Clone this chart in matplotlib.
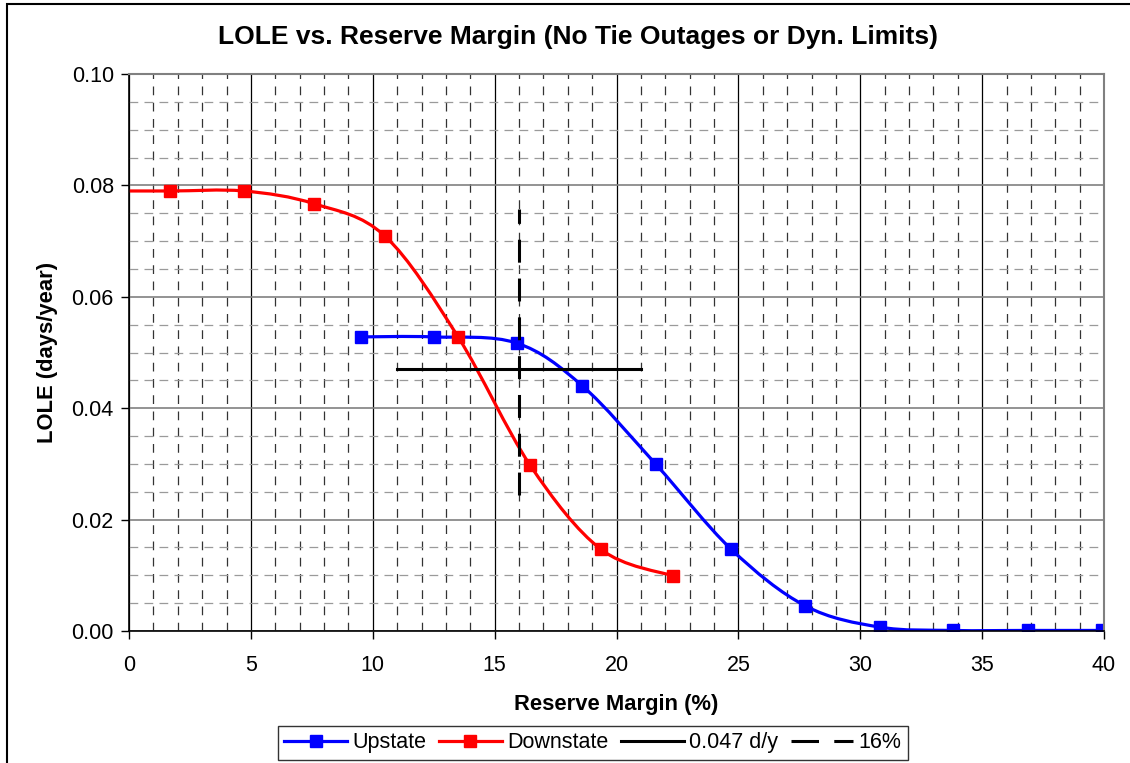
import numpy as np
import matplotlib
matplotlib.use("Agg")
import matplotlib.pyplot as plt
from matplotlib.path import Path
from matplotlib.patches import PathPatch, Rectangle
from matplotlib.lines import Line2D
from matplotlib.ticker import MultipleLocator, FormatStrFormatter

plt.rcParams['font.family'] = ['Liberation Sans', 'DejaVu Sans']

# data
up_x = [9.5, 12.5, 15.9, 18.6, 21.6, 24.7, 27.75, 30.8, 33.8, 36.9, 39.9]
up_y = [0.0528, 0.0528, 0.0517, 0.0440, 0.0300, 0.0147, 0.0045, 0.0007, 0.0001, 0.0001, 0.0001]
down_x = [-1.25, 1.7, 4.7, 7.6, 10.5, 13.5, 16.45, 19.35, 22.3]
down_y = [0.0790, 0.0790, 0.0790, 0.0767, 0.0709, 0.0528, 0.0298, 0.0147, 0.0099]
target_x = [11.0, 21.0]
target_y = [0.047, 0.047]
margin_x = [16.0, 16.0]
margin_y = [0.0245, 0.0757]


def smooth_path(xs, ys):
    # Excel-style smoothed line: Catmull-Rom segments as cubic Beziers
    p = np.column_stack([xs, ys])
    n = len(p)
    verts = [p[0]]
    codes = [Path.MOVETO]
    for i in range(n - 1):
        p0 = p[i - 1] if i > 0 else p[i]
        p1 = p[i]
        p2 = p[i + 1]
        p3 = p[i + 2] if i + 2 < n else p[i + 1]
        c1 = p1 + (p2 - p0) / 6.0
        c2 = p2 - (p3 - p1) / 6.0
        verts += [c1, c2, p2]
        codes += [Path.CURVE4] * 3
    return Path(verts, codes)


fig = plt.figure(figsize=(11.30, 7.63), dpi=100)
ax = fig.add_axes([0.1142, 0.1730, 0.8628, 0.7300])

ax.set_xlim(0, 40)
ax.set_ylim(0, 0.10)
ax.xaxis.set_major_locator(MultipleLocator(5))
ax.xaxis.set_minor_locator(MultipleLocator(1))
ax.yaxis.set_major_locator(MultipleLocator(0.02))
ax.yaxis.set_minor_locator(MultipleLocator(0.005))
ax.yaxis.set_major_formatter(FormatStrFormatter('%.2f'))
ax.set_axisbelow(True)

ax.xaxis.grid(True, which='major', color='black', lw=0.9, ls='-')
ax.xaxis.grid(True, which='minor', color='#333333', lw=0.9, ls=(0, (7, 6)))
ax.yaxis.grid(True, which='major', color='#808080', lw=1.2, ls='-')
ax.yaxis.grid(True, which='minor', color='#9a9a9a', lw=0.9, ls=(0, (7, 5)))

ax.tick_params(which='major', direction='out', length=6, width=1, labelsize=15.5)
ax.tick_params(axis='x', pad=11)
ax.tick_params(axis='y', pad=5)
ax.tick_params(which='minor', length=0)
for side in ['left', 'bottom']:
    ax.spines[side].set_color('black')
    ax.spines[side].set_linewidth(1.2)
for side in ['top', 'right']:
    ax.spines[side].set_color('#808080')
    ax.spines[side].set_linewidth(1.5)

blue = '#0000ff'
red = '#ff0000'
ax.add_patch(PathPatch(smooth_path(up_x, up_y), fill=False, edgecolor=blue, lw=2.3))
ax.add_patch(PathPatch(smooth_path(down_x, down_y), fill=False, edgecolor=red, lw=2.3))
ax.plot(up_x, up_y, ls='none', marker='s', ms=8, color=blue)
ax.plot(down_x, down_y, ls='none', marker='s', ms=8, color=red)
ax.plot(target_x, target_y, color='black', lw=2.2)
ax.plot(margin_x, margin_y, color='black', lw=2.2, ls=(0, (7.5, 5.2)))

# Excel centres the title over the whole chart area, not the plot area
fig.text(578 / 1130, 1 - 37 / 763, 'LOLE vs. Reserve Margin (No Tie Outages or Dyn. Limits)',
         fontsize=19, fontweight='bold', ha='center', va='center')
ax.set_xlabel('Reserve Margin (%)', fontsize=15.8, fontweight='bold', labelpad=13)
ax.set_ylabel('LOLE (days/year)', fontsize=15.8, fontweight='bold', labelpad=10)

handles = [
    Line2D([], [], color=blue, lw=2.3, marker='s', ms=8),
    Line2D([], [], color=red, lw=2.3, marker='s', ms=8),
    Line2D([], [], color='black', lw=2.2),
    Line2D([], [], color='black', lw=2.2, ls=(0, (9, 5))),
]
labels = ['Upstate', 'Downstate', '0.047 d/y', '16%']
leg = fig.legend(handles, labels, loc='upper left', bbox_to_anchor=(278 / 1130, 1 - 726 / 763),
                 ncol=4, fontsize=15.5, frameon=True, fancybox=False, handlelength=2.9,
                 handletextpad=0.25, columnspacing=0.6, borderpad=0.3, borderaxespad=0)
leg.get_frame().set_edgecolor('black')
leg.get_frame().set_linewidth(1.0)

fig.patches.append(Rectangle((7 / 1130, -0.2), 1.2, 1.2 - 4 / 763, transform=fig.transFigure,
                             fill=False, edgecolor='black', lw=1.5, clip_on=False))

fig.savefig('out.png', dpi=100)
